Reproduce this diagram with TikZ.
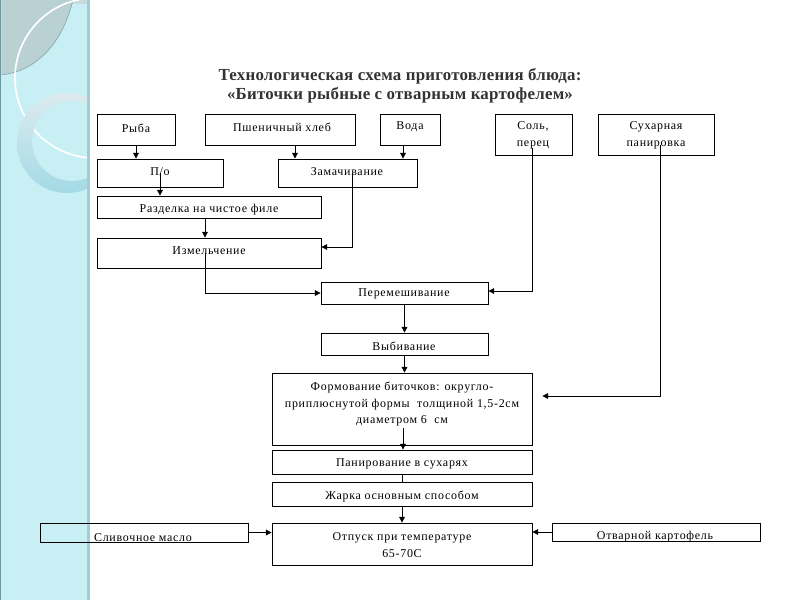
\documentclass[tikz,border=0pt]{standalone}
\usepackage{fontspec}
\setmainfont{Liberation Serif}[LetterSpace=6]
\newfontfamily\titlefont{Liberation Serif}[LetterSpace=1.5]
\usetikzlibrary{fit,calc,arrows.meta}
\definecolor{panel}{HTML}{C8EFF3}
\definecolor{stripe}{HTML}{A3CDD0}
\definecolor{edgec}{HTML}{6A9A9E}
\definecolor{lens}{HTML}{B9D1D3}
\definecolor{lensline}{HTML}{7FA3A6}
\definecolor{ringtop}{HTML}{DDEAEE}
\definecolor{ringbot}{HTML}{A3DAE5}
\definecolor{titlec}{HTML}{333333}
\begin{document}
\begin{tikzpicture}[x=0.025cm,y=-0.025cm,
  box/.style={draw=black, line width=0.6pt, inner sep=0pt},
  txt/.style={font=\fontsize{8.5}{12}\selectfont, inner sep=0pt, align=center},
  arr/.style={line width=0.6pt, -{Triangle[length=4pt,width=4pt]}},
  ln/.style={line width=0.6pt}]
\useasboundingbox (0,0) rectangle (800,600);
% background
\fill[white] (0,0) rectangle (800,600);
\fill[panel] (0,0) rectangle (87,600);
\fill[stripe] (87,0) rectangle (90,600);
\fill[edgec] (0,0) rectangle (1.5,600);
\begin{scope}
  \clip (1.5,0) rectangle (87,600);
  \fill[lens!80!white] (73,0) rectangle (87,4);
  \fill[lens] (0,0) -- (73,0) .. controls (62,45) and (35,72) .. (0,75) -- cycle;
  \draw[lensline, line width=0.4pt] (73,0) .. controls (62,45) and (35,72) .. (0,75);
  \draw[white, line width=1.2pt] (95,78) circle (80);
  \shade[top color=ringtop, bottom color=ringbot, even odd rule] (67,143) circle (50) (72,141) circle (40);
\end{scope}
% title
\node[font=\fontsize{12}{13.5}\selectfont\bfseries\titlefont, text=titlec, align=center, inner sep=0pt] (title) at (400,86)
  {Технологическая схема приготовления блюда:\\«Биточки рыбные с отварным картофелем»};
% boxes
\node[box, fit={(97,114) (175,145)}] (ryba) {};
\node[box, fit={(205,114) (355,145)}] (hleb) {};
\node[box, fit={(380,114) (440,145)}] (voda) {};
\node[box, fit={(495,114) (572,155)}] (sol) {};
\node[box, fit={(598,114) (714,155)}] (sukh) {};
\node[box, fit={(97,159) (223,187)}] (po) {};
\node[box, fit={(278,159) (417,187)}] (zam) {};
\node[box, fit={(97,196) (321,218)}] (razd) {};
\node[box, fit={(97,238) (321,268)}] (izm) {};
\node[box, fit={(321,282) (488,304)}] (perem) {};
\node[box, fit={(321,333) (488,355)}] (vyb) {};
\node[box, fit={(272,373) (532,445)}] (form) {};
\node[box, fit={(272,450) (532,474)}] (pan) {};
\node[box, fit={(272,482) (532,506)}] (zhar) {};
\node[box, fit={(272,523) (532,565)}] (otp) {};
\node[box, fit={(40,523) (248,542)}] (slm) {};
\node[box, fit={(552,523) (760,541)}] (kart) {};
% texts
\node[txt] (tryba) at (136,128) {Рыба};
\node[txt] (thleb) at (282,127) {Пшеничный хлеб};
\node[txt] (tvoda) at (410,127) {Вода};
\node[txt] (tsol) at (533,135) {Соль,\\перец};
\node[txt] (tsukh) at (656,135) {Сухарная\\панировка};
\node[txt] (tpo) at (160,172) {П/о};
\node[txt] (tzam) at (347,172) {Замачивание};
\node[txt] (trazd) at (209,210) {Разделка на чистое филе};
\node[txt] (tizm) at (209,251) {Измельчение};
\node[txt] (tperem) at (404,294) {Перемешивание};
\node[txt] (tvyb) at (404,346) {Выбивание};
\node[txt] (tform) at (402,404) {Формование биточков: округло-\\приплюснутой формы\ \ толщиной 1,5-2см\\диаметром 6\ \ см};
\node[txt] (tpan) at (402,464) {Панирование в сухарях};
\node[txt] (tzhar) at (402,496) {Жарка основным способом};
\node[txt] (totp) at (402,545) {Отпуск при температуре\\65-70С};
\node[txt] (tslm) at (143,538) {Сливочное масло};
\node[txt] (tkart) at (655,537) {Отварной картофель};
% connectors
\draw[arr] (ryba.south) -- (ryba.south |- po.north);
\coordinate (h1) at ($(hleb.south)+(15,0)$);
\draw[arr] (h1) -- (h1 |- zam.north);
\coordinate (v1) at ($(voda.south)+(-7,0)$);
\draw[arr] (v1) -- (v1 |- zam.north);
\draw[arr] (po.center) -- (po.center |- razd.north);
\coordinate (r1) at ($(razd.south)+(-4,0)$);
\draw[arr] (r1) -- (r1 |- izm.north);
\coordinate (z1) at ($(zam.center)+(5,0)$);
\coordinate (z2) at ($(izm.east)+(0,-6)$);
\draw[arr] (z1) |- (z2);
\coordinate (i1) at ($(izm.center)+(-4,0)$);
\draw[arr] (i1) |- (perem.west);
\coordinate (s1) at ($(sol.center)+(-1,13)$);
\coordinate (s2) at ($(perem.east)+(0,-2)$);
\draw[arr] (s1) |- (s2);
\coordinate (k1) at ($(sukh.center)+(4,10)$);
\coordinate (fe) at ($(form.east)+(10,-13)$);
\draw[arr] (k1) |- (fe);
\draw[arr] (perem.south) -- (vyb.north);
\draw[arr] (vyb.south) -- (vyb.south |- form.north);
\coordinate (f1) at ($(form.center)+(1,19)$);
\draw[arr] (f1) -- (f1 |- pan.north);
\draw[ln] (pan.south) -- (zhar.north);
\draw[arr] (zhar.south) -- (otp.north);
\draw[arr] (slm.east) -- (slm.east -| otp.west);
\draw[arr] (kart.west) -- (kart.west -| otp.east);
\end{tikzpicture}
\end{document}
